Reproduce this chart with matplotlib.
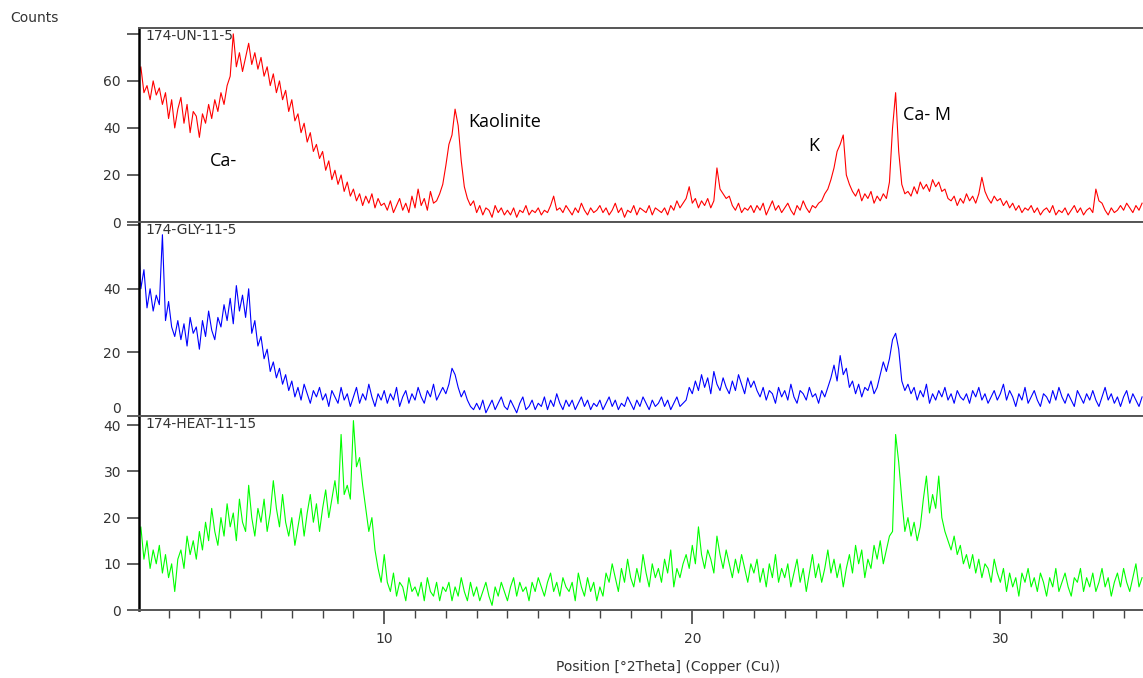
import matplotlib.pyplot as plt
import numpy as np
from matplotlib.ticker import MultipleLocator

# 2Theta grid starts at 2.0 deg, 0.1 deg per point
two_theta_start = 2.0
two_theta_step = 0.1

# 174-UN-11-5 (counts)
un_counts = [
    60, 66, 55, 58, 52, 60, 54, 57, 50, 55,
    44, 52, 40, 48, 53, 42, 50, 38, 47, 45,
    36, 46, 42, 50, 44, 52, 47, 55, 50, 58,
    62, 80, 66, 72, 64, 70, 76, 67, 72, 65,
    70, 62, 66, 58, 63, 55, 60, 52, 56, 47,
    52, 43, 46, 38, 42, 34, 38, 30, 33, 27,
    30, 22, 26, 18, 22, 16, 20, 13, 17, 11,
    14, 9, 12, 7, 11, 8, 12, 6, 10, 7,
    8, 5, 9, 4, 7, 10, 5, 8, 4, 11,
    6, 14, 7, 10, 5, 13, 8, 9, 12, 16,
    24, 33, 37, 48, 41, 26, 15, 10, 7, 9,
    4, 7, 3, 6, 5, 2, 7, 4, 6, 3,
    5, 3, 6, 2, 5, 4, 7, 3, 5, 4,
    6, 3, 5, 4, 7, 11, 5, 6, 4, 7,
    5, 3, 6, 4, 8, 5, 3, 6, 4, 5,
    7, 4, 6, 3, 5, 8, 4, 6, 2, 5,
    4, 7, 3, 6, 5, 4, 7, 3, 6, 5,
    4, 6, 3, 7, 5, 9, 6, 8, 10, 15,
    8, 10, 6, 9, 7, 10, 6, 9, 23, 14,
    12, 10, 11, 7, 5, 8, 4, 6, 5, 7,
    4, 7, 5, 8, 3, 6, 9, 5, 7, 4,
    6, 8, 5, 3, 7, 5, 9, 6, 4, 7,
    6, 8, 9, 12, 14, 18, 23, 30, 33, 37,
    20, 16, 13, 11, 14, 9, 12, 10, 13, 8,
    11, 9, 12, 10, 17, 40, 55, 30, 16, 12,
    13, 11, 15, 12, 17, 14, 16, 13, 18, 15,
    17, 13, 14, 10, 9, 11, 7, 10, 8, 12,
    9, 11, 8, 12, 19, 13, 10, 8, 11, 9,
    10, 7, 9, 6, 8, 5, 7, 4, 6, 5,
    7, 4, 6, 3, 5, 6, 4, 7, 3, 5,
    4, 6, 3, 5, 7, 4, 6, 3, 5, 6,
    4, 14, 9, 8, 5, 3, 6, 4, 5, 7,
    5, 8, 6, 4, 7, 5, 8,
]

# 174-GLY-11-5
gly_counts = [
    60, 40, 46, 34, 40, 33, 38, 35, 57, 30,
    36, 28, 25, 30, 24, 29, 22, 31, 26, 28,
    21, 30, 25, 33, 27, 24, 31, 28, 35, 30,
    37, 29, 41, 33, 38, 31, 40, 26, 30, 22,
    25, 18, 21, 14, 17, 12, 15, 10, 13, 8,
    11, 6, 9, 5, 10, 7, 4, 8, 6, 9,
    5, 7, 3, 8, 6, 4, 9, 5, 7, 3,
    6, 9, 4, 7, 5, 10, 6, 3, 7, 5,
    8, 4, 7, 5, 9, 3, 6, 8, 4, 7,
    5, 9, 6, 4, 8, 6, 10, 5, 7, 9,
    7, 10, 15, 13, 9, 6, 8, 5, 3, 2,
    4, 2, 5, 1, 3, 5, 2, 4, 6, 3,
    2, 5, 3, 1, 4, 6, 2, 3, 5, 2,
    4, 3, 6, 2, 5, 3, 7, 4, 2, 5,
    3, 5, 2, 4, 6, 3, 5, 2, 4, 3,
    5, 2, 4, 6, 3, 5, 2, 4, 3, 6,
    4, 2, 5, 3, 6, 4, 2, 5, 3, 4,
    6, 3, 5, 2, 4, 6, 3, 4, 5, 9,
    7, 11, 8, 13, 9, 12, 7, 14, 10, 8,
    12, 9, 7, 11, 8, 13, 10, 7, 12, 9,
    11, 8, 6, 9, 5, 8, 7, 4, 9, 6,
    8, 5, 10, 6, 4, 8, 7, 5, 9, 6,
    7, 4, 8, 6, 9, 12, 16, 11, 19, 13,
    15, 9, 11, 7, 10, 6, 9, 8, 11, 7,
    9, 13, 17, 14, 18, 24, 26, 21, 11, 8,
    10, 7, 9, 5, 8, 6, 10, 4, 7, 5,
    8, 6, 9, 5, 7, 4, 8, 6, 5, 7,
    4, 8, 6, 9, 5, 7, 4, 6, 8, 5,
    7, 10, 5, 8, 6, 3, 7, 5, 9, 4,
    6, 8, 5, 3, 7, 6, 4, 8, 5, 9,
    6, 4, 7, 5, 3, 8, 6, 4, 7, 5,
    8, 5, 3, 6, 9, 5, 7, 4, 6, 3,
    6, 8, 4, 7, 5, 3, 6,
]

# 174-HEAT-11-15
heat_counts = [
    14, 18, 11, 15, 9, 13, 10, 14, 8, 12,
    7, 10, 4, 11, 13, 9, 16, 12, 15, 11,
    17, 13, 19, 15, 22, 17, 14, 20, 16, 23,
    18, 21, 15, 24, 19, 17, 27, 20, 16, 22,
    19, 24, 17, 21, 28, 22, 18, 25, 19, 16,
    20, 14, 18, 22, 16, 21, 25, 19, 23, 17,
    22, 26, 20, 24, 28, 23, 38, 25, 27, 24,
    41, 31, 33, 27, 22, 17, 20, 13, 9, 6,
    12, 6, 4, 8, 3, 6, 5, 2, 7, 4,
    5, 3, 6, 2, 7, 4, 3, 6, 2, 5,
    4, 6, 2, 5, 3, 7, 4, 2, 6, 3,
    5, 2, 4, 6, 3, 1, 5, 3, 6, 4,
    2, 5, 7, 3, 6, 4, 5, 2, 6, 4,
    7, 5, 3, 6, 8, 4, 6, 3, 7, 5,
    4, 6, 2, 8, 5, 3, 7, 4, 6, 2,
    5, 3, 8, 6, 10, 7, 4, 9, 6, 11,
    7, 5, 9, 6, 12, 8, 5, 10, 7, 9,
    6, 11, 8, 13, 5, 9, 7, 10, 12, 9,
    14, 10, 18, 12, 9, 13, 11, 8, 16, 12,
    9, 13, 10, 7, 11, 8, 12, 9, 6, 10,
    8, 11, 6, 9, 5, 10, 7, 12, 6, 9,
    7, 10, 5, 8, 11, 6, 9, 4, 8, 12,
    7, 10, 6, 9, 13, 8, 11, 7, 10, 5,
    9, 12, 8, 14, 10, 13, 7, 11, 9, 14,
    11, 15, 10, 13, 16, 17, 38, 32, 24, 17,
    20, 16, 19, 15, 18, 24, 29, 21, 25, 22,
    29, 20, 17, 15, 13, 16, 12, 14, 10, 12,
    9, 12, 8, 11, 7, 10, 9, 6, 11, 8,
    6, 9, 4, 8, 5, 7, 3, 8, 6, 9,
    5, 7, 4, 8, 6, 3, 7, 5, 9, 4,
    6, 8, 5, 3, 7, 6, 9, 4, 7, 5,
    8, 4, 6, 9, 5, 7, 3, 6, 8, 5,
    9, 6, 4, 7, 10, 5, 7,
]

sample_names = ['174-UN-11-5', '174-GLY-11-5', '174-HEAT-11-15']
colors = ['#ff0000', '#0000ff', '#00ff00']
y_tops = [82.5, 61, 42]
y_ticks = [[0, 20, 40, 60, 80], [0, 20, 40, 60], [0, 10, 20, 30, 40]]
y_ticklabels = [['0', '20', '40', '60', ''], ['0', '20', '40', ''],
                ['0', '10', '20', '30', '40']]

# peak labels on the untreated scan: (text, 2Theta, counts)
peak_labels = [('Ca-', 4.35, 26), ('Kaolinite', 12.73, 42.5),
               ('K', 23.77, 32.5), ('Ca- M', 26.85, 45.5)]

fig = plt.figure(figsize=(11.43, 6.78), dpi=100)

left = 139 / 1143
width = 1 - left
panel_h = 194 / 678
bottoms = [1 - 222 / 678, 1 - 416 / 678, 1 - 610 / 678]

for i, counts in enumerate([un_counts, gly_counts, heat_counts]):
    x = two_theta_start + two_theta_step * np.arange(len(counts))
    ax = fig.add_axes([left, bottoms[i], width, panel_h])
    ax.plot(x, counts, color=colors[i], lw=0.8)
    ax.set_xlim(2.04, 34.63)
    ax.set_ylim(0, y_tops[i])
    ax.set_yticks(y_ticks[i])
    ax.set_yticklabels(y_ticklabels[i])
    ax.tick_params(axis='y', direction='out', length=9, width=1.2,
                   color='#444444', labelcolor='#333333', labelsize=10, pad=4)
    if i == 1:
        # the "0" of the middle panel sits right on the panel border
        ax.get_yticklabels()[0].set_va('bottom')
    for s in ['top', 'bottom']:
        ax.spines[s].set_color('#555555')
        ax.spines[s].set_linewidth(1.4)
    ax.spines['left'].set_color('black')
    ax.spines['left'].set_linewidth(1.8)
    ax.spines['right'].set_visible(False)
    ax.text(0.006, 0.995, sample_names[i], transform=ax.transAxes,
            ha='left', va='top', fontsize=10, color='#333333')
    if i < 2:
        ax.set_xticks([])
    else:
        ax.xaxis.set_major_locator(MultipleLocator(10))
        ax.xaxis.set_minor_locator(MultipleLocator(1))
        ax.tick_params(axis='x', which='major', direction='out', length=10,
                       width=1.2, color='#444444', labelcolor='#333333',
                       labelsize=10, pad=6)
        ax.tick_params(axis='x', which='minor', direction='out', length=6,
                       width=1.0, color='#444444')
    if i == 0:
        for txt, px, py in peak_labels:
            ax.text(px, py, txt, ha='left', va='center', fontsize=13,
                    family='Open Sans', color='black')

fig.text(10 / 1143, 1 - 18 / 678, 'Counts', ha='left', va='center',
         fontsize=10, color='#333333')
fig.text(668 / 1143, 1 - 667 / 678, 'Position [°2Theta] (Copper (Cu))',
         ha='center', va='center', fontsize=10, color='#333333')

fig.savefig('out.png', dpi=100)
